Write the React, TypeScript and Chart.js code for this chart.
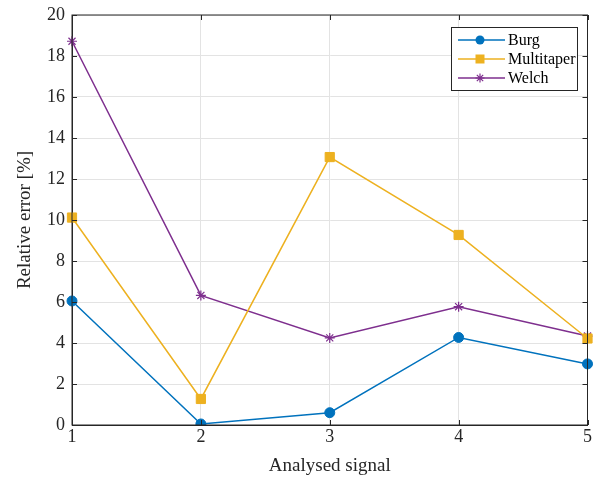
import React, { useEffect, useRef } from "react";
import { Chart, registerables } from "chart.js";

Chart.register(...registerables);

const categories = ["1", "2", "3", "4", "5"];
const burg = [6.05, 0.05, 0.6, 4.27, 2.98];
const multitaper = [10.12, 1.27, 13.07, 9.27, 4.22];
const welch = [18.72, 6.32, 4.25, 5.77, 4.34];
const yTicks = [0, 2, 4, 6, 8, 10, 12, 14, 16, 18, 20];

const FONT = "'Liberation Serif', 'Times New Roman', serif";
const AXIS = "#262626";

const boxPlugin = {
  id: "boxAndLegend",
  afterDraw(chart: any) {
    const { ctx, chartArea } = chart;
    const { left, right, top, bottom } = chartArea;
    ctx.save();
    ctx.strokeStyle = AXIS;
    ctx.lineWidth = 1;
    ctx.strokeRect(left, top, right - left, bottom - top);
    const ys = chart.scales.y;
    const xs = chart.scales.x;
    const tl = 5;
    ctx.beginPath();
    yTicks.forEach((v) => {
      const py = Math.round(ys.getPixelForValue(v)) + 0.5;
      ctx.moveTo(left, py);
      ctx.lineTo(left + tl, py);
      ctx.moveTo(right, py);
      ctx.lineTo(right - tl, py);
    });
    categories.forEach((_, i) => {
      const px = Math.round(xs.getPixelForValue(i)) + 0.5;
      ctx.moveTo(px, bottom);
      ctx.lineTo(px, bottom - tl);
      ctx.moveTo(px, top);
      ctx.lineTo(px, top + tl);
    });
    ctx.stroke();

    // legend
    const bw = 126;
    const bh = 63;
    const bx = Math.round(right - 11 - bw);
    const by = Math.round(top + 12);
    ctx.fillStyle = "#ffffff";
    ctx.fillRect(bx, by, bw, bh);
    ctx.strokeStyle = "#262626";
    ctx.strokeRect(bx + 0.5, by + 0.5, bw, bh);
    ctx.font = `16px ${FONT}`;
    ctx.textBaseline = "middle";
    ctx.textAlign = "left";
    chart.data.datasets.forEach((ds: any, i: number) => {
      const cy = by + 13 + i * 19;
      ctx.strokeStyle = ds.borderColor;
      ctx.lineWidth = 1.5;
      ctx.beginPath();
      ctx.moveTo(bx + 7, cy);
      ctx.lineTo(bx + 54, cy);
      ctx.stroke();
      const mx = bx + 29;
      ctx.fillStyle = ds.backgroundColor;
      if (ds.pointStyle === "circle") {
        ctx.beginPath();
        ctx.arc(mx, cy, 4.5, 0, Math.PI * 2);
        ctx.fill();
      } else if (ds.pointStyle === "rect") {
        ctx.fillRect(mx - 4.5, cy - 4.5, 9, 9);
      } else {
        ctx.lineWidth = 1.2;
        ctx.beginPath();
        const r = 4.5;
        for (let k = 0; k < 4; k++) {
          const a = (k * Math.PI) / 4;
          ctx.moveTo(mx - r * Math.cos(a), cy - r * Math.sin(a));
          ctx.lineTo(mx + r * Math.cos(a), cy + r * Math.sin(a));
        }
        ctx.stroke();
      }
      ctx.fillStyle = "#000000";
      ctx.fillText(ds.label, bx + 57, cy + 1);
    });
    ctx.restore();
  },
};

export default function App() {
  const ref = useRef<HTMLCanvasElement | null>(null);
  useEffect(() => {
    if (!ref.current) return;
    const mk = (label: string, data: number[], color: string, style: string, r: number) => ({
      label,
      data,
      borderColor: color,
      backgroundColor: color,
      pointBorderColor: color,
      pointBackgroundColor: color,
      borderWidth: 1.5,
      pointStyle: style,
      pointRadius: r,
      pointBorderWidth: style === "star" ? 1.2 : 1,
      tension: 0,
    });
    const chart = new Chart(ref.current, {
      type: "line",
      data: {
        labels: categories,
        datasets: [
          mk("Burg", burg, "#0072BD", "circle", 5),
          mk("Multitaper", multitaper, "#EDB120", "rect", 6.5),
          mk("Welch", welch, "#7E2F8E", "star", 5),
        ],
      },
      options: {
        animation: false,
        responsive: false,
        devicePixelRatio: 1,
        layout: { padding: { left: 0, top: 15, right: 5, bottom: 0 } },
        plugins: { legend: { display: false }, tooltip: { enabled: false } },
        scales: {
          x: {
            type: "category",
            offset: false,
            grid: { color: "#e3e3e3", drawTicks: false },
            border: { color: AXIS },
            ticks: { color: AXIS, font: { family: FONT, size: 18 }, padding: 1 },
            title: {
              display: true,
              text: "Analysed signal",
              color: AXIS,
              font: { family: FONT, size: 19 },
              padding: { top: 1, bottom: 0 },
            },
            afterFit: (s: any) => {
              s.height = 52;
              s.paddingLeft = 0;
              s.paddingRight = 0;
            },
          },
          y: {
            min: 0,
            max: 20,
            grid: { color: "#e3e3e3", drawTicks: false },
            border: { color: AXIS },
            ticks: {
              stepSize: 2,
              color: AXIS,
              font: { family: FONT, size: 18 },
              padding: 7,
            },
            title: {
              display: true,
              text: "Relative error [%]",
              color: AXIS,
              font: { family: FONT, size: 19 },
              padding: { top: 14, bottom: 0 },
            },
            afterFit: (s: any) => {
              s.width = 72;
              s.paddingTop = 0;
              s.paddingBottom = 0;
            },
          },
        },
      },
      plugins: [boxPlugin],
    });
    return () => chart.destroy();
  }, []);
  return (
    <div style={{ position: "fixed", left: 0, top: 0, width: 595, height: 477, background: "#fff" }}>
      <canvas ref={ref} width={595} height={477} style={{ display: "block" }} />
    </div>
  );
}
